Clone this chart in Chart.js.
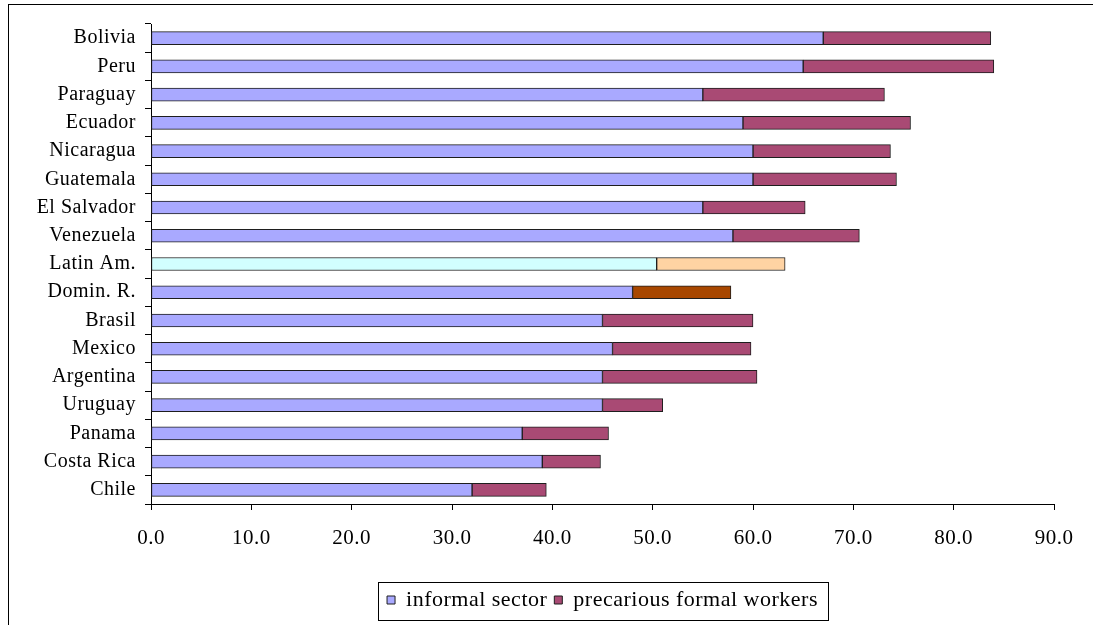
<!DOCTYPE html>
<html>
<head>
<meta charset="utf-8">
<script src="https://cdn.jsdelivr.net/npm/chart.js@4/dist/chart.umd.min.js"></script>
<style>
  html, body { margin: 0; padding: 0; background: #fff; overflow: hidden; }
  canvas { display: block; }
</style>
</head>
<body>
<canvas id="chart" width="1093" height="625"></canvas>
<script>
// Share of urban employment, %
const countries = ['Bolivia', 'Peru', 'Paraguay', 'Ecuador', 'Nicaragua', 'Guatemala', 'El Salvador',
  'Venezuela', 'Latin Am.', 'Domin. R.', 'Brasil', 'Mexico', 'Argentina', 'Uruguay', 'Panama',
  'Costa Rica', 'Chile'];
const informalSector = [67.0, 65.0, 55.0, 59.0, 60.0, 60.0, 55.0, 58.0, 50.4, 48.0, 45.0, 46.0, 45.0, 45.0, 37.0, 39.0, 32.0];
const precariousFormal = [16.7, 19.0, 18.1, 16.7, 13.7, 14.3, 10.2, 12.6, 12.8, 9.8, 15.0, 13.8, 15.4, 6.0, 8.6, 5.8, 7.4];
const seriesNames = ['informal sector', 'precarious formal workers'];
const xTickValues = [0, 10, 20, 30, 40, 50, 60, 70, 80, 90];

// Styling
const FONT = "'Liberation Serif', 'Times New Roman', serif";
const informalColor = '#A9A9FF';
const precariousColor = '#A94A74';
const edgeColor = '#1e1e1e';
const specialColors = {
  'Latin Am.': ['#D2FFFF', '#FFD3A3'],
  'Domin. R.': [null, '#A84700']
};

function barColor(seriesIndex, base) {
  return (ctx) => {
    if (ctx.type !== 'data') return base;
    const special = specialColors[countries[ctx.dataIndex]];
    return (special && special[seriesIndex]) || base;
  };
}

// Slightly spaced lettering
const letterSpacingPlugin = {
  id: 'letterSpacing',
  beforeUpdate(chart) { chart.ctx.letterSpacing = '0.5px'; },
  beforeDraw(chart) { chart.ctx.letterSpacing = '0.5px'; }
};

// White background and outer frame
const framePlugin = {
  id: 'frame',
  beforeDraw(chart) {
    const ctx = chart.ctx;
    ctx.save();
    ctx.fillStyle = '#fff';
    ctx.fillRect(0, 0, chart.width, chart.height);
    ctx.strokeStyle = '#000';
    ctx.lineWidth = 1;
    ctx.strokeRect(8.5, 4.5, 2000, 2000);
    ctx.restore();
  }
};

// Box around the legend entries
const legendBoxPlugin = {
  id: 'legendBox',
  afterDraw(chart) {
    const lg = chart.legend;
    if (!lg || !lg.legendHitBoxes || !lg.legendHitBoxes.length) return;
    const boxes = lg.legendHitBoxes;
    const left = Math.min(...boxes.map(b => b.left)) - 9;
    const right = Math.max(...boxes.map(b => b.left + b.width)) + 10;
    const ctx = chart.ctx;
    ctx.save();
    ctx.strokeStyle = '#000';
    ctx.lineWidth = 1;
    ctx.strokeRect(Math.round(left) + 0.5, Math.round(lg.top) + 0.5,
      Math.round(right - left), Math.round(lg.bottom - lg.top) - 1);
    ctx.restore();
  }
};

new Chart(document.getElementById('chart'), {
  type: 'bar',
  data: {
    labels: countries,
    datasets: [
      {
        label: seriesNames[0],
        data: informalSector,
        backgroundColor: barColor(0, informalColor),
        borderColor: edgeColor,
        borderWidth: 1,
        borderSkipped: false,
        barThickness: 13
      },
      {
        label: seriesNames[1],
        data: precariousFormal,
        backgroundColor: barColor(1, precariousColor),
        borderColor: edgeColor,
        borderWidth: 1,
        borderSkipped: false,
        barThickness: 13
      }
    ]
  },
  options: {
    indexAxis: 'y',
    responsive: false,
    animation: false,
    events: [],
    layout: { padding: { left: 0, top: 24, right: 39, bottom: 4 } },
    scales: {
      x: {
        stacked: true,
        min: 0,
        max: 90,
        afterBuildTicks(axis) { axis.ticks = xTickValues.map(v => ({ value: v })); },
        afterFit(axis) { axis.height = 78; },
        border: { display: true, color: '#000', width: 1 },
        grid: { drawOnChartArea: false, drawTicks: true, tickLength: 6, color: '#000' },
        ticks: {
          color: '#000',
          font: { family: FONT, size: 21 },
          padding: 16,
          maxRotation: 0,
          callback: (v) => Number(v).toFixed(1)
        }
      },
      y: {
        stacked: true,
        afterFit(axis) { axis.width = 151; },
        border: { display: true, color: '#000', width: 1 },
        grid: { offset: true, drawOnChartArea: false, drawTicks: true, tickLength: 6, color: '#000' },
        ticks: {
          color: '#000',
          font: { family: FONT, size: 20 },
          padding: 9,
          autoSkip: false
        }
      }
    },
    plugins: {
      tooltip: { enabled: false },
      legend: {
        position: 'bottom',
        fullSize: false,
        labels: {
          color: '#000',
          font: { family: FONT, size: 22 },
          boxWidth: 8,
          boxHeight: 8,
          padding: 7
        }
      }
    }
  },
  plugins: [letterSpacingPlugin, framePlugin, legendBoxPlugin]
});
</script>
</body>
</html>
